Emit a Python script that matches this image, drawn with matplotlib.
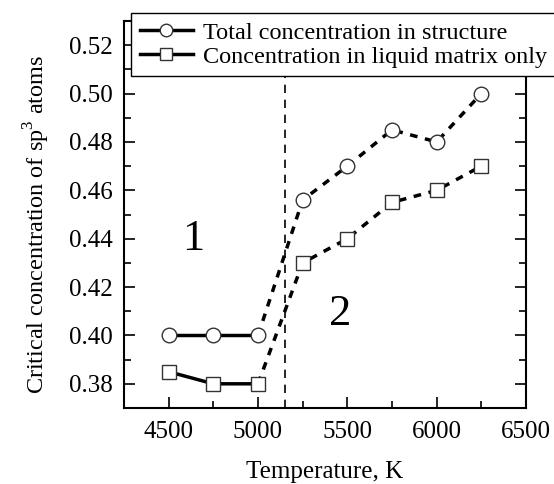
import matplotlib
matplotlib.use("Agg")
import matplotlib.pyplot as plt
from matplotlib.ticker import MultipleLocator, FormatStrFormatter
from matplotlib.lines import Line2D

plt.rcParams['font.family'] = ['Liberation Serif', 'DejaVu Serif']
plt.rcParams['mathtext.fontset'] = 'custom'
plt.rcParams['mathtext.rm'] = 'Liberation Serif'

temperature = [4500, 4750, 5000, 5250, 5500, 5750, 6000, 6250]
total_conc = [0.40, 0.40, 0.40, 0.456, 0.47, 0.485, 0.48, 0.50]
liquid_conc = [0.385, 0.38, 0.38, 0.43, 0.44, 0.455, 0.46, 0.47]
split_index = 3  # first three points solid, rest dashed
boundary_T = 5150

fig = plt.figure(figsize=(5.54, 4.84), dpi=100)
ax = fig.add_axes([124/554, 1-408/484, (526-124)/554, (408-21)/484])

for y, m, ms in [(total_conc, 'o', 10.5), (liquid_conc, 's', 9.5)]:
    ax.plot(temperature[split_index-1:], y[split_index-1:], linestyle=(0, (2.2, 2.2)),
            color='black', linewidth=2.5, zorder=2)
    ax.plot(temperature[:split_index], y[:split_index], linestyle='-',
            color='black', linewidth=2.5, zorder=2)
    ax.plot(temperature, y, linestyle='none', marker=m, markersize=ms,
            markerfacecolor='white', markeredgecolor='#333333', markeredgewidth=1.0, zorder=3)

ax.axvline(boundary_T, color='black', linestyle=(0, (5, 4)), linewidth=1.2, zorder=1)

ax.set_xlim(4250, 6500)
ax.set_ylim(0.37, 0.53)
ax.xaxis.set_major_locator(MultipleLocator(500))
ax.xaxis.set_minor_locator(MultipleLocator(250))
ax.yaxis.set_major_locator(MultipleLocator(0.02))
ax.yaxis.set_minor_locator(MultipleLocator(0.01))
ax.yaxis.set_major_formatter(FormatStrFormatter('%.2f'))
ax.tick_params(which='both', direction='in', top=False, right=True, labelsize=18, width=1.2)
ax.tick_params(which='major', length=8)
ax.tick_params(which='minor', length=5)
ax.tick_params(axis='x', pad=9)
ax.tick_params(axis='y', pad=8)
for s in ax.spines.values():
    s.set_linewidth(1.5)

ax.set_xlabel('Temperature, K', fontsize=18, labelpad=13)
ax.set_ylabel('Critical concentration of sp$^3$ atoms', fontsize=17.5)
ax.yaxis.set_label_coords(-0.18, 0.475)

ax.text(4635, 0.440, '1', fontsize=32, ha='center', va='center')
ax.text(5460, 0.409, '2', fontsize=32, ha='center', va='center')

handles = [
    Line2D([], [], color='black', linewidth=2.5, marker='o', markersize=9,
           markerfacecolor='white', markeredgecolor='#333333', markeredgewidth=1.0),
    Line2D([], [], color='black', linewidth=2.5, marker='s', markersize=8,
           markerfacecolor='white', markeredgecolor='#333333', markeredgewidth=1.0),
]
leg = fig.legend(handles, ['Total concentration in structure', 'Concentration in liquid matrix only'],
                 loc='upper left', bbox_to_anchor=(131/554, 1-13/484), fontsize=17.5,
                 frameon=True, fancybox=False, edgecolor='black', framealpha=1,
                 handlelength=2.2, handletextpad=0.4, borderpad=0.35, labelspacing=0.1,
                 borderaxespad=0)
leg.get_frame().set_linewidth(1.0)

fig.savefig('out.png', dpi=100)
